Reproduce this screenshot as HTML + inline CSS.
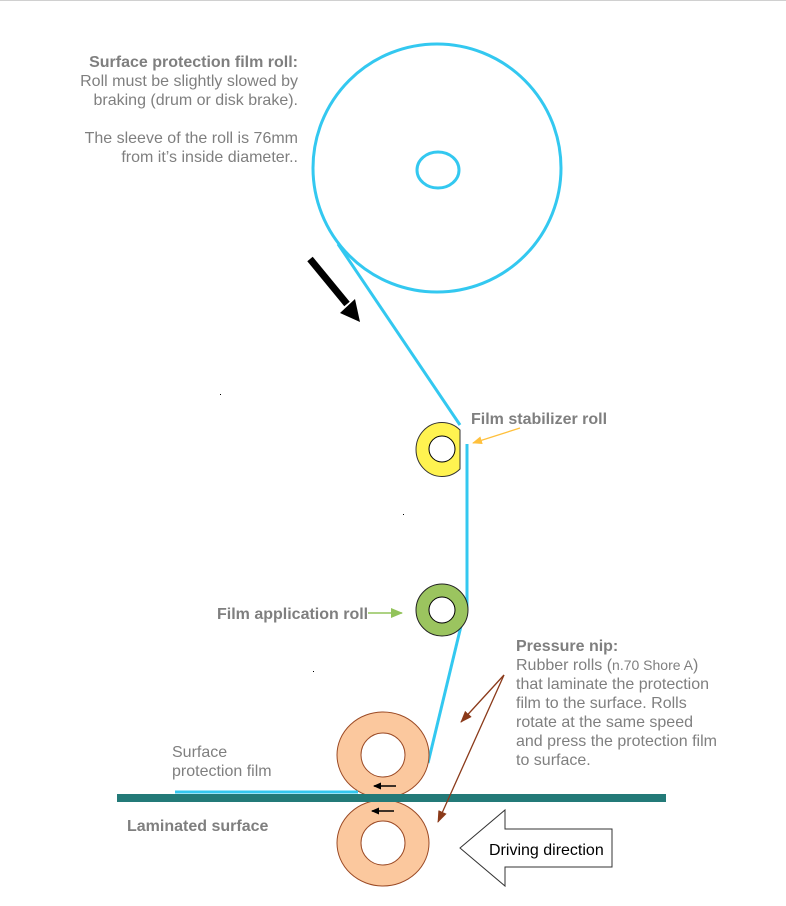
<!DOCTYPE html>
<html><head><meta charset="utf-8"><style>
html,body{margin:0;padding:0;background:#fff;}
svg{display:block;}
text{font-family:"Liberation Sans",Arial,sans-serif;}
</style></head><body>
<svg width="786" height="906" viewBox="0 0 786 906" xmlns="http://www.w3.org/2000/svg">
<defs>
<marker id="ay" markerWidth="10" markerHeight="8" refX="9" refY="4" orient="auto" markerUnits="userSpaceOnUse"><path d="M0,0 L10,4 L0,8 z" fill="#ffc03c"/></marker>
<marker id="ag" markerWidth="12" markerHeight="10" refX="11" refY="5" orient="auto" markerUnits="userSpaceOnUse"><path d="M0,0 L12,5 L0,10 z" fill="#92c35a"/></marker>
<marker id="ab" markerWidth="12" markerHeight="9" refX="11" refY="4.5" orient="auto" markerUnits="userSpaceOnUse"><path d="M0,0 L12,4.5 L0,9 z" fill="#8b3a1a"/></marker>
<marker id="ak" markerWidth="8" markerHeight="7" refX="1" refY="3.5" orient="auto" markerUnits="userSpaceOnUse"><path d="M8,0 L0,3.5 L8,7 z" fill="#000"/></marker>
</defs>
<line x1="0" y1="0.5" x2="786" y2="0.5" stroke="#d0d0d0" stroke-width="1"/>

<circle cx="437" cy="168" r="124" fill="none" stroke="#33c8f0" stroke-width="3"/>
<ellipse cx="438" cy="170" rx="21" ry="18" fill="none" stroke="#33c8f0" stroke-width="3"/>

<line x1="338" y1="244" x2="460" y2="425" stroke="#33c8f0" stroke-width="3"/>
<line x1="467" y1="444" x2="467" y2="610" stroke="#33c8f0" stroke-width="3"/>
<line x1="461" y1="626" x2="428" y2="763" stroke="#33c8f0" stroke-width="3"/>

<line x1="310" y1="259" x2="347" y2="304" stroke="#000" stroke-width="7"/>
<path d="M340,313 L360,322 L355,299 z" fill="#000"/>

<path d="M460,430 A26,27 0 1 0 460,469 z" fill="#fff350" stroke="#333" stroke-width="1"/>
<circle cx="442" cy="449" r="13" fill="#fff" stroke="#000" stroke-width="1"/>
<line x1="520" y1="428" x2="473" y2="443" stroke="#ffc03c" stroke-width="1.3" marker-end="url(#ay)"/>
<text x="471" y="424" font-size="16" font-weight="bold" fill="#7f7f7f">Film stabilizer roll</text>

<circle cx="442" cy="610" r="26" fill="#9bc45f" stroke="#222" stroke-width="1"/>
<circle cx="442" cy="610" r="13" fill="#fff" stroke="#000" stroke-width="1"/>
<line x1="368" y1="613" x2="402" y2="613" stroke="#92c35a" stroke-width="1.5" marker-end="url(#ag)"/>
<text x="217" y="619" font-size="16" font-weight="bold" fill="#7f7f7f">Film application roll</text>

<ellipse cx="383" cy="755" rx="46" ry="43" fill="#fbc89e" stroke="#9b4a25" stroke-width="1"/>
<circle cx="383" cy="755" r="22" fill="#fff" stroke="#9b4a25" stroke-width="1"/>
<ellipse cx="383" cy="843" rx="46" ry="43" fill="#fbc89e" stroke="#9b4a25" stroke-width="1"/>
<circle cx="383" cy="843" r="22" fill="#fff" stroke="#9b4a25" stroke-width="1"/>

<line x1="175" y1="792" x2="358" y2="792" stroke="#33c8f0" stroke-width="3"/>
<rect x="117" y="794" width="549" height="8" fill="#237a78"/>
<line x1="374" y1="786" x2="396" y2="786" stroke="#000" stroke-width="1.5" marker-start="url(#ak)"/>
<line x1="372" y1="811" x2="394" y2="811" stroke="#000" stroke-width="1.5" marker-start="url(#ak)"/>

<line x1="504" y1="675" x2="461" y2="722" stroke="#8b3a1a" stroke-width="1.3" marker-end="url(#ab)"/>
<line x1="504" y1="675" x2="438" y2="822" stroke="#8b3a1a" stroke-width="1.3" marker-end="url(#ab)"/>

<path d="M460,848 L505,810 L505,829 L612,829 L612,867 L505,867 L505,886 z" fill="#fff" stroke="#333" stroke-width="1"/>
<text x="489" y="855" font-size="16" fill="#000">Driving direction</text>

<g font-size="16" fill="#7f7f7f" text-anchor="end">
<text x="298" y="67" font-weight="bold">Surface protection film roll:</text>
<text x="298" y="86">Roll must be slightly slowed by</text>
<text x="298" y="105">braking (drum or disk brake).</text>
<text x="298" y="143">The sleeve of the roll is 76mm</text>
<text x="298" y="162">from it’s inside diameter..</text>
</g>
<g font-size="16" fill="#7f7f7f">
<text x="516" y="651" font-weight="bold">Pressure nip:</text>
<text x="516" y="670">Rubber rolls (<tspan font-size="14">n.70  Shore A</tspan>)</text>
<text x="516" y="689">that laminate the protection</text>
<text x="516" y="708">film to the surface. Rolls</text>
<text x="516" y="727">rotate at the same speed</text>
<text x="516" y="746">and press the protection film</text>
<text x="516" y="765">to surface.</text>
<text x="172" y="757">Surface</text>
<text x="172" y="776">protection film</text>
<text x="127" y="831" font-weight="bold">Laminated surface</text>
</g>
<rect x="220" y="394" width="1" height="1" fill="#000"/>
<rect x="403" y="514" width="1" height="1" fill="#000"/>
<rect x="313" y="671" width="1" height="1" fill="#000"/>
</svg>
</body></html>
